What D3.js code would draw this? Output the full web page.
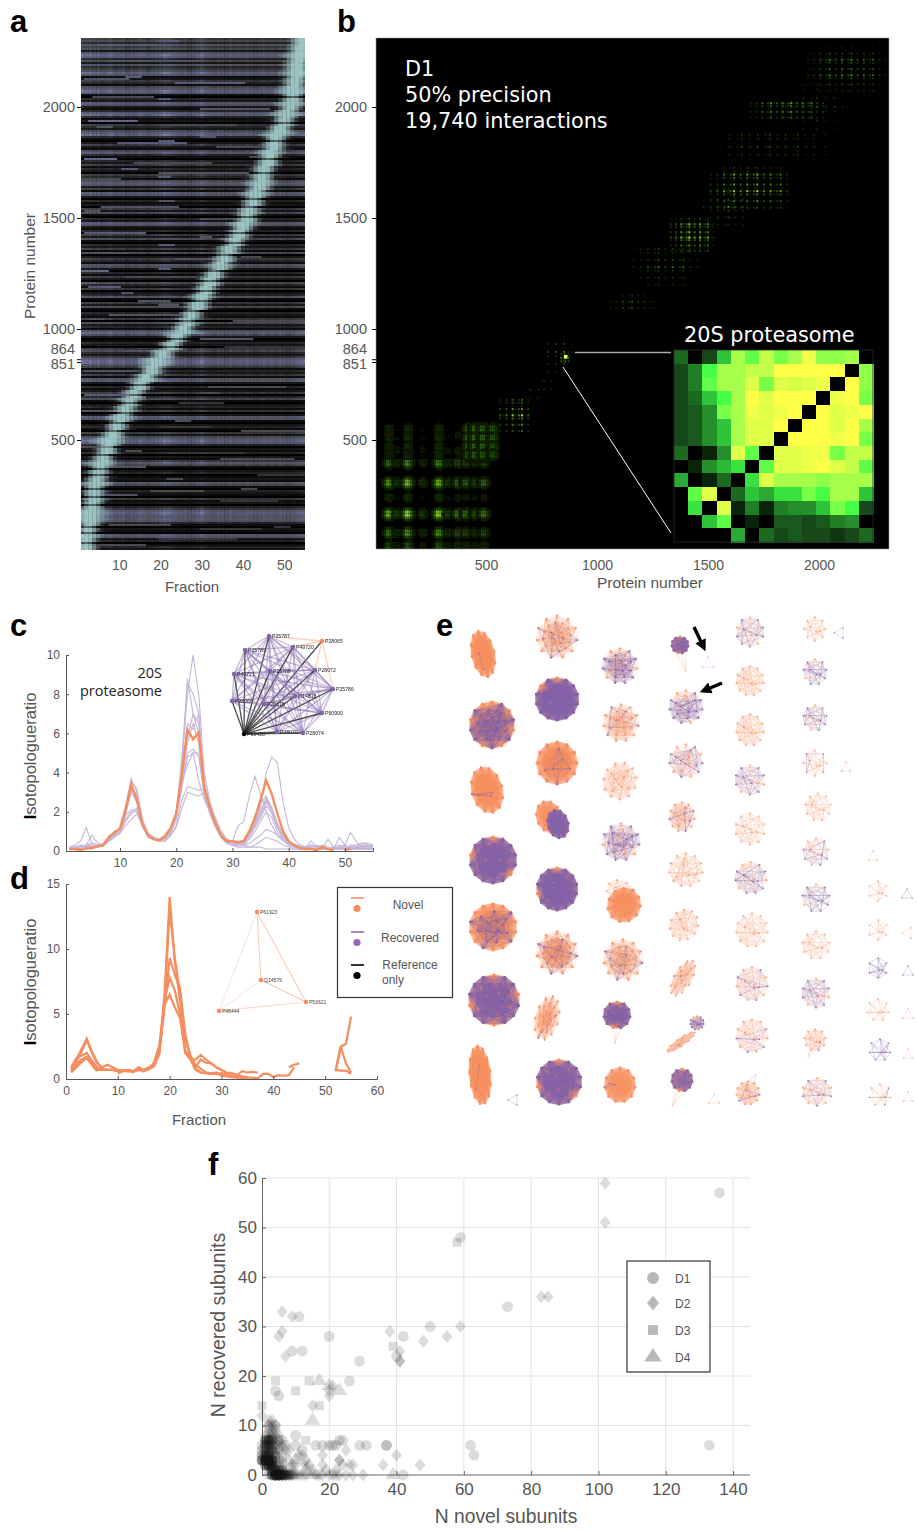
<!DOCTYPE html>
<html>
<head>
<meta charset="utf-8">
<script src="https://cdn.jsdelivr.net/npm/d3@7"></script>
<style>
  html, body { margin: 0; background: #fff; }
  text { font-family: "Liberation Sans", sans-serif; }
</style>
</head>
<body>
<div id="figure"></div>
<script>
const novelColor = "#f58e5e";
const recoveredColor = "#8462a8";
const labelColor = "#555";

// ---- panel a: elution heatmap ----
const heatRowLevels = [
  4,5,3,6,4,5,2,6, 8,7,3,5,2,6,3,4, 5,8,6,1,2,4,3,1, 5,6,8,7,1,0,3,2,
  7,6,2,1,3,7,8,3, 1,2,0,4,3,2,5,7, 8,3,1,0,2,4,2,1, 5,7,3,1,0,3,2,4,
  1,3,2,0,4,3,1,5, 7,6,2,4,1,7,6,2, 0,3,1,2,0,4,2,5, 1,0,3,2,7,6,2,1,
  3,0,4,2,5,1,0,3, 2,4,1,5,0,2,4,3, 1,6,5,2,0,3,1,4, 2,0,5,3,1,4,0,2,
  3,6,1,0,4,2,5,1, 0,3,2,1,4,0,5,2, 3,1,6,8,5,2,0,1, 3,2,0,4,5,3,2,4,
  7,8,8,6,4,1,3,2, 4,1,6,7,2,0,3,1, 2,4,0,3,5,1,0,2, 3,1,4,0,2,7,6,1,
  0,2,3,1,0,4,2,5, 7,8,7,3,0,2,1,3, 0,2,1,4,7,5,1,0, 2,3,0,1,2,1,7,5,
  1,0,3,2,1,0,4,1, 2,0,3,4,7,8,7,6, 7,6,3,1,0,2,1,0, 7,6,2,3,0,1,3,2
];
const heatColumnLevels = [
  .95,.9,.95,.85,.9,.8,.85,.9,.75,.8,.85,.7,.8,.75,.85,.8,.7,.8,.85,.9,
  1,.95,.85,.8,.75,.8,.7,.75,.85,.95,.8,.75,.7,.8,.75,.7,.8,.7,.75,.7,
  .8,.75,.7,.75,.8,.7,.75,.7,.8,.75,.7,.75,.8,.85,.9
];
// protein fraction at the ridge, one value per four heatmap rows, top to bottom
const ridgeFractions = [
  54.5,54,53.5,53,53,52.5,52,52,51.5,50.5,50,49,48,47.5,46.5,46,
  45,44.5,44,43,42.5,41.5,41,40,39,38,36.5,35.5,34.5,33,32,31,
  30,29,27.5,26.5,25.5,24,22.5,20.5,19,18,16.5,15,13.5,12.5,11.5,10.5,
  9.5,8.5,7.5,7,6,5.5,5,4.5,4,4,3.5,3,3,2.5,2,2
];
// extra short streaks: row, first fraction, last fraction, level
const heatStreaks = [
  [3,5,20,6],[11,8,30,5],[20,2,12,5],[22,24,40,6],[29,4,18,4],[35,30,46,5],[41,3,14,7],[43,20,38,4],
  [52,10,26,6],[54,34,46,4],[60,2,9,7],[62,14,32,4],[67,20,41,5],[70,1,10,4],[84,6,24,5],[90,30,43,4],
  [97,2,16,6],[100,18,30,4],[107,4,12,5],[110,24,36,5],[116,1,7,7],[119,12,28,4],[124,3,10,6],[131,15,22,5],
  [134,4,18,4],[138,8,24,5],[141,38,55,4],[150,30,42,5],[154,36,55,3],[166,2,14,5],[174,32,50,4],[178,2,12,6],
  [182,25,35,3],[186,1,15,5],[194,20,32,3],[196,40,55,4],[204,1,8,4],[207,22,40,3],[210,35,52,4],[214,8,16,5],
  [218,44,55,3],[226,18,30,4],[228,2,14,5],[231,35,48,3],[243,8,22,4],[245,30,44,3],[250,20,38,3],[253,4,16,4],
  [1,20,24,6],[13,20,23,6],[19,12,15,6],[30,20,22,6],[44,5,8,5],[49,30,33,5],[51,20,23,6],[59,42,46,4],
  [65,11,14,6],[69,20,22,6],[81,20,23,5],[86,2,5,5],[93,12,16,5],[99,30,32,5],[103,20,23,6],[109,40,44,4],
  [115,20,22,6],[122,1,4,6],[127,11,13,5],[133,20,24,5],[140,3,6,5],[146,20,25,4],[156,12,15,5],[170,9,12,5],
  [177,30,34,4],[191,24,27,4],[199,44,48,4],[206,12,15,4],[220,22,25,4],[225,40,43,4],[235,15,19,3],[244,48,51,3]
];

// ---- panel b: interaction matrix, read by eye ----
const proteasomeMatrix = [
  [3,0,2,5,8,6.5,8.5,7,8,9.5,7.5,7.5,8,0],
  [2,3.5,6,8,8,8.5,8.5,10,10,10,10,10,0,7.5],
  [2,3.5,6.5,8,8,9,7,9,8.8,9,9.5,0,10,7.5],
  [2,3,5,6,8,10,9,10,10,10,0,9.5,10,7],
  [2,2.5,4,7,8,9.5,9,9.5,10,0,10,9,9.5,10],
  [2,2.5,4,5,8,9,9,10,0,10,10,9,10,8],
  [2,2.5,4,5,8,9,9,0,10,10,10,9.5,10,7],
  [3,0,1,4,9,6.5,0,9,9,9.5,9.5,7,8.5,8.5],
  [0,1,4,4.8,5.5,0,6.5,9,9,9.5,10,9,8.5,6.5],
  [4.5,0,1,3,0,5.5,9,8,8,8,7.5,8,8,8],
  [0,6.5,9,0,3,5,4.5,5.5,5.5,7,6,8,8,5],
  [0,5.5,0,9,1,3.5,1,3.5,4,4,5,7,6,2],
  [0,0,5,6.5,0,1,0,2.5,2.5,2,2.5,3.5,4,0],
  [0,0,0,0,4.5,0,3,2,2.5,2,2,1.5,2,3]
];
const lowerBandsX = [[63,.8],[100,.3],[149,1],[215,.3],[289,.95],[330,.32],[375,.55],[411,.5],[450,.35],[492,.55]];
const lowerBandsY = [[520,.22],[450,.3],[397,.6],[307,.85],[240,.25],[167,1],[81,.65],[23,.4]];
const upperBandsX = [[420,.8],[451,.85],[488,.85],[533,.75]];
const upperBandsY = [[550,.85],[509,.9],[469,.9],[433,.8]];
const patchOffsets = [-30,-24,-18,-13,-9,-5,-2,2,5,9,13,18,24,30];
const patchWeights = [.2,.35,.55,.8,1,1,1,1,1,1,.8,.55,.35,.2];
const meshWeightsX = [1,.7,.9,.5,1,.75,.85];
const meshWeightsY = [1,.65,.9,.5,.8];
const blockMeshX = [1,.15,.6,.1,.85,.2,.5];
const blockMeshY = [1,.2,.7,.12,.55];
// x from, x to, y from, y to, pitch, strength
const diagonalBlocks = [
  [564,709,541,690,14,.8],[840,880,855,895,8,.95],[780,900,807,983,18,.42],[700,760,690,770,18,.3],
  [760,830,730,820,18,.3],[1060,1264,1095,1154,14,.42],[1165,1467,1199,1380,16,.36],[1332,1526,1352,1501,12,.8],
  [1480,1700,1470,1640,16,.4],[1512,1873,1546,1727,15,.75],[1526,2054,1785,1893,18,.38],[1693,2040,1952,2042,13,.62],
  [1950,2311,2073,2281,14,.46],[1850,2140,1900,2120,20,.25]
];

// ---- panel c: 20S proteasome elution profiles ----
const fractions = d3.range(1, 56);
const proteasomeMean = [.1,.1,.05,.12,.15,.25,.27,.7,.95,1.15,2.1,3.4,2.6,1.4,.8,.6,.55,.75,1.15,1.9,3.9,6.2,5.7,6.05,3.2,2.2,1.4,.75,.5,.5,.45,.5,1,1.7,2.6,3.6,2.9,1.9,1,.5,.3,.15,.1,.1,.05,.2,.1,.05,null,0,.15,null,null,null,null];
const proteasomeSubunits = [
  [.1,.2,.3,.25,.2,.2,.3,.6,.9,1.2,2.3,3.7,3,1.5,.9,.7,.6,.8,1.2,2,4.5,8,10,8,4,2.5,1.6,.9,.6,.5,.5,.5,.9,1.5,2.4,2.8,2.2,1.4,.8,.5,.3,.3,.2,.2,.2,.1,.1,.2,.1,.2,.1,.2,.2,.3,.2],
  [.2,.3,.5,1.2,.4,.3,.4,.7,1,1.1,2.2,3.3,2.7,1.4,.8,.6,.5,.7,1.1,2,4,8.8,7,6.5,3.5,2.3,1.4,.8,.5,.4,.4,.5,.8,1.4,2.3,4,4.8,4.5,2.5,1.2,.6,.3,.2,.5,.2,.1,.6,.2,.2,.3,.1,.2,.1,.2,.3],
  [.1,.1,.2,.3,.8,.4,.3,.5,.8,1,1.9,3.2,2.8,1.5,.8,.6,.5,.7,1,1.8,4.8,8.6,8,7,3.3,2.2,1.7,1,.6,.5,1.3,1.5,2.8,3.8,2.9,2,1.3,.8,.5,.3,.2,.2,.1,.3,.2,.3,.2,.1,.7,.3,.95,.5,.2,.1,.2],
  [.1,.2,.2,.3,.3,.2,.3,.6,.9,1.1,2,3,2.6,1.3,.7,.6,.5,.7,1.1,1.9,3.8,5.8,7,6,3,2.1,1.4,.8,.5,.4,.4,.5,.8,1.4,1.9,2.7,2.2,1.4,.8,.4,.2,.2,.1,.1,.1,.1,.1,.2,.1,.1,.2,.2,.1,.1,.1],
  [.1,.1,.2,.2,.2,.2,.3,.5,.8,1,1.9,3,2.5,1.3,.7,.6,.6,.7,1,1.7,3.5,5.5,6.5,5.5,2.9,2,1.3,.7,.5,.4,.4,.4,.7,1.2,1.8,2.5,2,1.2,.7,.4,.2,.1,.1,.1,.1,.1,.1,.1,.1,.2,.1,.1,.2,.1,.1],
  [.1,.1,.1,.1,.2,.2,.3,.6,.9,1,1.8,2.1,2.1,1.3,.7,.6,.5,.6,1,1.8,3.3,5,5.2,4.8,2.9,2,1.3,.8,.5,.4,.4,.4,.8,1.2,1.7,2.3,1.9,1.2,.7,.4,.2,.1,.1,.1,.1,.1,.1,.1,.1,.1,.1,.1,.1,.1,.1],
  [.1,.1,.1,.1,.2,.2,.3,.5,.8,1,1.6,2,2,1.2,.8,.6,.5,.6,.9,1.6,3.2,4.8,5,5,2.8,1.9,1.2,.7,.4,.3,.3,.3,.6,1,1.5,2,1.7,1,.6,.3,.2,.1,.1,.1,.1,.1,.1,.1,.1,.1,.1,.1,.1,.1,.1],
  [.1,.1,.1,.2,.1,.2,.3,.5,.7,.9,1.3,1.6,1.9,1.3,.7,.6,.5,.5,.8,1.3,2.6,3.3,3.2,3.1,3.2,1.9,1.2,.7,.4,.3,.3,.3,.4,.6,.8,1.1,1,.8,.6,.3,.2,.1,.1,.1,.1,.1,.1,.1,.1,.1,.1,.1,.1,.1,.1],
  [.2,.2,.2,.3,.2,.2,.3,.5,.7,.9,1.5,1.9,2.2,1.3,.7,.6,.5,.5,.8,1.2,2.2,3,2.9,2.8,3,2,1.3,.7,.4,.3,.2,.2,.2,.3,.5,.7,.6,.5,.3,.2,.1,.1,.1,.1,.1,.1,.1,.1,.1,.1,.2,.2,.3,.2,.1],
  [.1,.1,.2,.2,.2,.2,.3,.5,.8,1,1.9,3.1,2.9,1.5,.8,.6,.5,.6,1,1.7,3.5,4.4,5,3.6,2.6,2,1.4,.9,.5,.4,.3,.3,.2,.2,.2,.1,.1,.1,.1,.1,.1,.1,.1,.2,.3,.2,.1,.1,.2,.1,.2,.2,.4,.3,.2],
  [.1,.1,.2,.3,.4,.3,.3,.6,.9,1.1,2,3.5,3.2,1.6,.9,.7,.6,.7,1.1,1.9,3.9,6.5,6.2,7,3.4,2.4,1.5,.8,.5,.5,.4,.4,.8,1.3,2.1,2.6,2.1,1.3,.8,.5,.3,.2,.2,.3,.2,.2,.1,.2,.3,.2,.3,.3,.4,.4,.3]
];
const proteasomeNodes = [
  ["P25787",269,636,"r"],["P28065",322,641,"n"],["P49720",293,647,"r"],["P25789",245,650,"r"],["P28072",315,670,"r"],
  ["P49721",234,674,"r"],["P25788",270,671,"r"],["P25786",333,689,"r"],["O14818",295,696,"r"],["P60900",322,713,"r"],
  ["P28066",232,701,"r"],["P20618",264,704,"r"],["P28070",277,732,"r"],["P28074",303,733,"r"],["P99436",244,734,"b"]
];

// ---- panel d: novel complex elution profiles ----
const novelProfiles = [
  [.8,1.5,2.3,3.1,2.1,1.3,.8,.7,.7,.65,.6,.7,.6,.9,.7,.9,1.1,2.2,6.5,14,9,6,3,1.8,1.1,.8,.5,.45,.4,.45,.3,.2,.15,.1,.1,.1,.05,.4,.4,.15,.3,.25,.3,.9,null,null,null,null,null,null,null,.6,2.5,2.7,4.8],
  [.7,1.3,2.1,3,2,1.2,.9,1.1,.9,.7,.65,.7,.55,.8,.6,.8,1,2,5.8,13,9.3,6.6,3.3,1.6,1.5,1.85,1.5,1.2,.9,.7,.5,.45,.3,.6,.5,.55,.5,null,null,null,null,null,.9,1.1,1.2,null,null,null,null,null,null,.7,.65,.65,.4],
  [.9,1.6,1.8,2,1.4,.9,.7,.7,.7,.6,.65,.65,.6,.7,.65,.75,1,1.9,5.5,9.3,8,7,3.5,1.7,.9,1.5,1.25,1.2,.9,.7,.45,.4,.3,.2,.15,null,null,null,null,null,null,null,null,null,null,null,null,null,null,null,null,.6,2.5,1.2,.5],
  [.6,1.1,1.5,1.7,1.2,.7,.7,.7,.7,.6,.6,.6,.6,.7,.7,.8,1,2.1,6,7.8,6.8,5,2.2,1.6,.8,.5,.45,.4,.4,.3,.2,.15,.1,.1,.1,null,null,null,null,null,null,null,null,null,null,null,null,null,null,null,null,null,null,null,null],
  [.5,.9,1.3,1.6,1.1,.6,null,null,null,.4,.65,.6,.55,.75,.6,.8,1.3,2.6,5.7,6.5,5.5,4.7,2,1.5,.7,.5,.45,.4,.5,.3,.25,.2,.15,null,null,null,null,null,null,null,null,null,null,null,null,null,null,null,null,null,null,null,null,null,null]
];
const novelNodes = [["P61923",257,912],["Q14579",261,980],["P53621",306,1002],["P48444",219,1011]];

// ---- panel e: complexes, by layout column ----
// centre x, centre y, x radius, y radius, rotation, nodes, link density, recovered share
const networkColumn0 = [
  [483,654,12,24,-12,40,.95,.06],[492,725,23,24,0,46,.9,.55],[487,790,16,24,-15,40,.95,.1],[493,860,24,24,0,46,.9,.82],
  [493,927,24,24,0,46,.85,.35],[494,1000,26,26,0,46,.95,.72],[480,1075,11,30,-5,44,.95,.05],[514,1100,6,6,30,3,1,1]
];
const networkColumn1 = [
  [557,637,21,22,0,30,.7,.3],[557,699,22,22,0,46,.95,.92],[557,763,21,22,0,40,.9,.16],[549,817,13,17,-20,26,1,0],[558,824,11,15,-15,26,1,1],
  [557,889,21,22,0,46,.95,.9],[557,953,21,22,0,36,.8,.3],[547,1018,12,23,15,26,.8,.15],[559,1082,23,23,0,46,.85,.8]
];
const networkColumn2 = [
  [620,666,18,18,0,24,.8,.72],[621,723,18,19,0,24,.75,.28],[620,781,17,19,15,18,.7,.04],[621,842,19,19,0,22,.7,.75],
  [624,905,17,18,30,30,1,.02],[621,893,16,12,30,12,.8,0],[623,960,20,21,0,28,.8,.3],[617,1015,14,14,0,30,1,.85],[620,1085,16,18,0,28,.95,.12]
];
const networkColumn3 = [
  [680,645,9,9,0,18,1,.85],[708,664,6,7,0,3,1,0],[686,707,17,17,0,20,.7,.8],[686,761,17,17,0,18,.65,.6],[682,817,13,15,0,18,.8,.35],
  [686,870,17,17,0,16,.65,.1],[684,925,14,16,30,14,.8,.03],[683,978,9,20,30,18,.75,.12],[697,1023,7,7,0,14,1,.8],[681,1042,4,17,55,14,1,0],
  [682,1080,11,12,0,18,1,.85],[714,1100,6,6,0,3,1,0]
];
const networkColumn4 = [
  [750,632,14,15,0,13,.75,.75],[750,681,14,15,0,14,.8,.04],[750,730,14,16,0,14,.8,.03],[750,780,15,15,0,13,.75,.7],[750,829,15,16,0,13,.7,.02],
  [751,878,16,16,0,14,.8,.72],[752,930,16,17,0,14,.65,.04],[752,984,16,17,0,14,.8,.5],[752,1036,16,17,0,14,.75,.45],[748,1093,12,12,0,16,.85,.25]
];
const networkColumn5 = [
  [815,629,11,12,0,11,.75,.02],[840,633,6,6,30,3,1,1],[815,672,12,13,0,12,.8,.85],[815,718,12,13,0,12,.8,.82],[815,763,12,13,0,11,.7,.5],
  [846,768,5,6,0,3,1,.4],[818,807,13,14,0,12,.7,.02],[816,852,13,14,0,12,.75,.65],[873,857,5,6,0,3,1,0],[816,898,14,14,0,12,.75,.85],
  [816,945,14,14,0,12,.7,.03],[816,993,14,15,0,13,.75,.7],[815,1040,11,11,0,12,.95,.2],[817,1092,15,14,0,13,.8,.55]
];
const networkColumn6 = [
  [878,891,10,10,0,8,.8,.02],[907,895,6,6,0,3,1,1],[878,930,10,10,0,8,.8,.02],[908,933,6,6,30,3,1,0],[878,968,10,10,0,8,.85,1],[908,972,6,6,0,3,1,1],
  [878,1010,11,11,0,9,.75,.02],[908,1015,6,6,0,3,1,0],[880,1050,11,11,0,9,.8,1],[908,1055,5,6,0,3,1,0],[880,1095,11,11,0,9,.75,.5],[908,1098,5,6,0,3,1,0]
];
// tails: hanging node x, y and the centre of the complex it joins
const networkTails = [[686,672,680,650],[672,1107,682,1085],[615,1044,617,1020],[808,1057,815,1044],[603,1012,614,1002],[756,1074,750,1082]];

// ---- panel f: complex composition ----
const pointsD1 = [
  [136,57],[59,48],[73,34],[50,30],[42,28],[29,23],[26,19],[20,28],[11,32],[12,25],[9,25],[5,16],[4,17],[40,24],[133,6],[62,6],[63,4],
  [37,6],[37,6],[42,0],[31,6],[29,6],[24,7],[23,7],[21,6],[22,6],[20,6],[16,6],[18,6],[10,8],[10,6],[12,5],[2,8],[3,7],[2,7],[1,7],[1,6],[0,6],
  [2,6],[3,6],[1,5],[0,5],[2,5],[1,4],[0,4],[2,4],[3,4],[0,3],[1,3],[1,3],[2,3],[2,3],[3,3],[3,3],[0,3],[1,2],[2,2],[2,2],[3,2],[3,1],[2,1],[3,0],[4,0],[4,0],
  [4,0],[5,0],[5,0],[5,0],[6,0],[6,0],[7,0],[8,0],[9,0],[4,1],[5,1],[6,1],[3,8],[4,10],[2,10],[5,7],
  [1,3],[1,3],[2,3],[2,3],[2,3],[1,2],[1,2],[2,2],[2,2],[3,3],[1,4],[2,4],[0,3],[0,4],[3,2],[3,2],[2,4],[1,3],
  [3,0],[3,0],[4,0],[4,0],[4,0],[5,0],[5,0],[5,0],[6,0],[6,0],[7,0],[7,0],[8,0],[3,1],[4,1],[5,1],[6,1],[2,7],[1,7],[2,6],[3,7],[1,6],
  [4,3],[5,3],[4,4],[5,5],[6,4],[4,2],[5,2],[6,2],[4,5],[4,6],[5,6],[7,6],[6,7],[2,3],[2,2],[3,3],[3,2],[1,3],[4,0],[5,0],[6,0],[5,1],[4,1],[3,3],[2,4],[3,5],[2,5],[3,6]
];
const pointsD2 = [
  [102,59],[102,51],[83,36],[85,36],[59,30],[55,28],[48,27],[38,29],[41,25],[41,23],[41,23],[6,33],[9,32],[6,29],[5,28],[7,24],[15,14],[20,16],[20,17],[21,18],
  [47,2],[40,4],[36,2],[30,0],[27,2],[25,5],[23,3],[23,3],[26,2],[18,4],[18,2],[13,3],[12,4],[14,2],[0,12],[2,11],[3,10],[4,9],[4,8],[5,8],[3,7],[6,6],[7,5],[8,5],[5,7],
  [2,9],[1,8],[1,4],[2,3],[3,2],[3,1],[4,1],[4,0],[5,0],[5,0],[6,0],[7,0],[8,0],[10,0],[10,2],[12,0],[16,0],[18,0],[20,0],[21,0],[23,0],[25,0],[27,0],[13,2],[11,4],[24,2],[22,1],
  [2,10],[3,9],[3,11],[4,10],[1,7],[2,7],[3,8],[2,6],[1,6],[11,0],[9,0],[13,0],[6,0],[4,0],[7,1],[15,1],[17,0],[19,1],[22,0],[9,2],[8,3],[6,3]
];
const pointsD3 = [
  [58,47],[39,26],[4,19],[14,19],[10,17],[17,14],[0,14],[13,7],[1,7],[2,7],[2,6],[3,7],[1,4],[1,3],[2,3],[2,2],[3,1],[3,0],[4,0],[5,0],[6,0],[8,0],[3,5],[1,5],[0,3],[4,4]
];
const pointsD4 = [
  [17,19],[23,17],[15,11],[39,0],[20,18],[10,3],[9,1],[3,5],[2,4],[2,3],[1,3],[2,2],[3,1],[3,0],[4,0],[5,0],[7,0],[9,0],[13,1],[15,0],[1,6],[2,7]
];

// ---- page ----
const svg = d3.select("#figure").append("svg").attr("width", 917).attr("height", 1530).style("display", "block");
const defs = svg.append("defs");
defs.append("filter").attr("id", "soft").append("feGaussianBlur").attr("stdDeviation", .45);
defs.append("clipPath").attr("id", "clipA").append("rect").attr("x", 81).attr("y", 38).attr("width", 224).attr("height", 512);
defs.append("clipPath").attr("id", "clipB").append("rect").attr("x", 376).attr("y", 38).attr("width", 513).attr("height", 511);

[["a",10,32],["b",337,32],["c",10,636],["d",10,889],["e",436,636],["f",208,1175]].forEach(([t,x,y]) => {
  svg.append("text").attr("x", x).attr("y", y).attr("font-size", 31).attr("font-weight", "bold").attr("fill", "#000").text(t);
});

const styleAxis = (g, size, color) => {
  g.selectAll("text").attr("font-size", size).attr("fill", labelColor).style("font-family", '"Liberation Sans", sans-serif');
  g.selectAll("line,path").attr("stroke", color);
};
const axisLabel = (x, y, text, size, rotate) => {
  const t = svg.append("text").attr("text-anchor", "middle").attr("font-size", size).attr("fill", labelColor).text(text);
  if (rotate) t.attr("transform", `translate(${x},${y}) rotate(-90)`);
  else t.attr("x", x).attr("y", y);
  return t;
};

// panel a
const proteinY = d3.scaleLinear().domain([0, 2000]).range([551, 107]);
const fractionA = d3.scaleLinear().domain([1, 55]).range([82, 305]);
const heatColor = d3.scaleLinear().domain([0,.2,.45,.72,1]).range(["#000","#1a1a1c","#4c4e54","#5d6082","#8a92ae"]);
const ridgeTeal = "#a2cccb";
const gA = svg.append("g").attr("clip-path", "url(#clipA)");
const gAInner = gA.append("g").attr("filter", "url(#soft)");
gAInner.append("rect").attr("x", 78).attr("y", 35).attr("width", 230).attr("height", 518).attr("fill", "#000");
const rowHeight = 512 / heatRowLevels.length;
const heatCells = [];
heatRowLevels.forEach((level, r) => {
  fractions.forEach((f, c) => {
    let v = level / 9 * heatColumnLevels[c];
    heatStreaks.forEach(s => { if (s[0] === r && f >= s[1] && f <= s[2]) v = Math.max(v, s[3] / 9); });
    const ridge = ridgeFractions[Math.floor(r / 4)];
    const d = Math.abs(f - ridge);
    if (level > 0) v = Math.max(v, .55 * (1 - d / 6));
    const halfWidth = 2 + level * .25;
    const w = .92 * Math.max(0, Math.min(1, 1.3 - d / halfWidth)) * (level === 0 ? .55 : 1);
    heatCells.push({ r, f, fill: d3.interpolateRgb(heatColor(v), ridgeTeal)(w) });
  });
});
gAInner.selectAll("rect.cell").data(heatCells).join("rect").attr("class", "cell")
  .attr("x", d => fractionA(d.f) - 2.06).attr("y", d => 38 + d.r * rowHeight)
  .attr("width", 4.3).attr("height", rowHeight + .3).attr("fill", d => d.fill);

const yAxisA = svg.append("g").attr("transform", "translate(81,0)")
  .call(d3.axisLeft(proteinY).tickValues([500,851,864,1000,1500,2000]).tickSize(4).tickPadding(2).tickFormat(d3.format("d")));
yAxisA.select(".domain").remove();
styleAxis(yAxisA, 14.5, "#000");
yAxisA.selectAll(".tick").filter(d => d === 864).select("text").attr("dy", "-0.4em");
yAxisA.selectAll(".tick").filter(d => d === 851).select("text").attr("dy", "0.42em");
const xAxisA = svg.append("g").attr("transform", "translate(0,550)")
  .call(d3.axisBottom(fractionA).tickValues([10,20,30,40,50]).tickSize(0).tickPadding(10));
xAxisA.select(".domain").remove();
styleAxis(xAxisA, 14, "#000");
axisLabel(192, 592, "Fraction", 15);
axisLabel(35, 266, "Protein number", 15.5, true);

// panel b
const proteinXB = d3.scaleLinear().domain([0, 2000]).range([375, 819]);
const greenYellow = d3.scaleLinear().domain([0,1,2,3,4,5,6,7,8,9,10]).clamp(true)
  .range(["#000","#0a240a","#16481a","#1c6a20","#258f2c","#2ec53a","#44ff44","#78ff48","#a6ff48","#e0ff48","#ffff48"]);
const dotColor = d3.scaleLinear().domain([0,2,4,6,8,10]).clamp(true)
  .range(["#000","#1a3a0a","#3d7a10","#7ab520","#c0e040","#ffff50"]);
const gB = svg.append("g").attr("clip-path", "url(#clipB)");
gB.append("rect").attr("x", 376).attr("y", 38).attr("width", 513).attr("height", 511).attr("fill", "#000");
const dots = [];
const addBandPatches = (xs, ys, gain) => {
  xs.forEach(([px, sx]) => ys.forEach(([py, sy]) => {
    patchOffsets.forEach((ox, i) => patchOffsets.forEach((oy, j) => {
      const v = gain * sx * sy * patchWeights[i] * patchWeights[j] * meshWeightsX[i % 7] * meshWeightsY[j % 5];
      if (v > .6) dots.push({ p: px + ox, q: py + oy, v });
    }));
  }));
};
addBandPatches(lowerBandsX, lowerBandsY, 9);
addBandPatches(upperBandsX, upperBandsY, 5.5);
addBandPatches(lowerBandsX.slice(0, 5), upperBandsY, 2.5);
diagonalBlocks.forEach(([x0, x1, y0, y1, pitch, s]) => {
  const xs = d3.range(x0, x1, pitch), ys = d3.range(y0, y1, pitch);
  xs.forEach((p, i) => ys.forEach((q, j) => {
    const taper = Math.sqrt(Math.sin(Math.PI * (i + .5) / xs.length) * Math.sin(Math.PI * (j + .5) / ys.length));
    const v = 11 * s * taper * blockMeshX[i % 7] * blockMeshY[j % 5];
    if (v > .6) dots.push({ p, q, v });
  }));
});
const gBDots = gB.append("g").attr("filter", "url(#soft)");
gBDots.selectAll("rect").data(dots).join("rect")
  .attr("x", d => proteinXB(d.p) - 1).attr("y", d => proteinY(d.q) - 1)
  .attr("width", 2).attr("height", 2).attr("fill", d => dotColor(d.v));
gB.append("rect").attr("x", 564).attr("y", 355).attr("width", 3.5).attr("height", 3.5).attr("fill", "#ffff48");

const insetCol = d3.scaleBand().domain(d3.range(14)).range([674, 873]);
const insetRow = d3.scaleBand().domain(d3.range(14)).range([350, 542]);
const insetCells = proteasomeMatrix.flatMap((row, r) => row.map((v, c) => ({ r, c, v })));
gB.selectAll("rect.inset").data(insetCells).join("rect").attr("class", "inset")
  .attr("x", d => insetCol(d.c)).attr("y", d => insetRow(d.r))
  .attr("width", insetCol.bandwidth() + .6).attr("height", insetRow.bandwidth() + .6)
  .attr("shape-rendering", "crispEdges").attr("fill", d => greenYellow(d.v));
gB.append("rect").attr("x", 674).attr("y", 350).attr("width", 199).attr("height", 192)
  .attr("fill", "none").attr("stroke", "#2a2a2a").attr("stroke-width", .8);
gB.append("line").attr("x1", 575).attr("y1", 352.5).attr("x2", 671).attr("y2", 352.5).attr("stroke", "#aaa").attr("stroke-width", 1.6);
gB.append("line").attr("x1", 563).attr("y1", 367).attr("x2", 671).attr("y2", 533).attr("stroke", "#fff").attr("stroke-width", 1);
const whiteFont = '"DejaVu Sans", sans-serif';
["D1", "50% precision", "19,740 interactions"].forEach((t, i) => {
  svg.append("text").attr("x", 405).attr("y", 75.5 + i * 26).attr("font-size", 20.8).attr("fill", "#fff").style("font-family", whiteFont).text(t);
});
svg.append("text").attr("x", 684).attr("y", 342).attr("font-size", 20.8).attr("fill", "#fff").style("font-family", whiteFont).text("20S proteasome");
svg.append("rect").attr("x", 376).attr("y", 38).attr("width", 513).attr("height", 511).attr("fill", "none").attr("stroke", "#999").attr("stroke-width", .6);

const yAxisB = svg.append("g").attr("transform", "translate(376,0)")
  .call(d3.axisLeft(proteinY).tickValues([500,851,864,1000,1500,2000]).tickSize(4).tickPadding(5).tickFormat(d3.format("d")));
yAxisB.select(".domain").remove();
styleAxis(yAxisB, 14.5, "#000");
yAxisB.selectAll(".tick").filter(d => d === 864).select("text").attr("dy", "-0.4em");
yAxisB.selectAll(".tick").filter(d => d === 851).select("text").attr("dy", "0.42em");
const xAxisB = svg.append("g").attr("transform", "translate(0,549)")
  .call(d3.axisBottom(proteinXB).tickValues([500,1000,1500,2000]).tickSize(0).tickPadding(11).tickFormat(d3.format("d")));
xAxisB.select(".domain").remove();
styleAxis(xAxisB, 14, "#000");
axisLabel(650, 588, "Protein number", 15.5);

// panel c
const fractionC = d3.scaleLinear().domain([.4, 55]).range([66, 373]);
const ratioC = d3.scaleLinear().domain([0, 10]).range([851, 655]);
const lineC = d3.line().defined(d => d != null).x((d, i) => fractionC(i + 1)).y(d => ratioC(d));
const gC = svg.append("g");
gC.selectAll("path.sub").data(proteasomeSubunits).join("path").attr("class", "sub").attr("d", lineC)
  .attr("fill", "none").attr("stroke", "#c6b6da").attr("stroke-width", 1.1);
gC.append("path").attr("d", lineC(proteasomeMean)).attr("fill", "none").attr("stroke", novelColor).attr("stroke-width", 2.4);

const axisLeftC = svg.append("g").attr("transform", "translate(66,0)")
  .call(d3.axisLeft(ratioC).tickValues([0,2,4,6,8,10]).tickSize(-3).tickPadding(6));
const axisBottomC = svg.append("g").attr("transform", "translate(0,851)")
  .call(d3.axisBottom(fractionC).tickValues([10,20,30,40,50]).tickSize(-3).tickPadding(7));
[axisLeftC, axisBottomC].forEach(a => styleAxis(a, 12, "#555"));
const isoLabel = (x, y) => {
  const t = svg.append("text").attr("transform", `translate(${x},${y}) rotate(-90)`).attr("text-anchor", "middle").attr("font-size", 16.5).attr("fill", labelColor);
  t.append("tspan").attr("fill", "#000").attr("font-weight", "bold").text("I");
  t.append("tspan").text("sotopologueratio");
};
isoLabel(36, 756);
["20S", "proteasome"].forEach((s, i) => {
  svg.append("text").attr("x", 162).attr("y", 678 + i * 18).attr("text-anchor", "end").attr("font-size", 14.5).attr("fill", "#222").style("font-family", '"Open Sans", sans-serif').text(s);
});
// proteasome network inset
const gCNet = svg.append("g").attr("filter", "url(#soft)");
const cLinks = [];
proteasomeNodes.forEach((a, i) => proteasomeNodes.forEach((b, j) => { if (i < j) cLinks.push([a, b]); }));
const cLinkOf = ([a, b]) => a[3] === "b" || b[3] === "b" ? "b" : (a[3] === "n" || b[3] === "n" ? "n" : "r");
gCNet.selectAll("line").data(cLinks.filter(l => cLinkOf(l) !== "n" || [ "P49720","P25787","P28072","P25786","P25789","P49721" ].includes(l[0][0]) || [ "P49720","P28072","P25786" ].includes(l[1][0]))).join("line")
  .attr("x1", d => d[0][1]).attr("y1", d => d[0][2]).attr("x2", d => d[1][1]).attr("y2", d => d[1][2])
  .attr("stroke", d => ({ b: "#222", n: "#f7a77f", r: "#8e72b4" }[cLinkOf(d)]))
  .attr("stroke-opacity", d => cLinkOf(d) === "b" ? .8 : .5).attr("stroke-width", 1.3);
gCNet.selectAll("circle").data(proteasomeNodes).join("circle")
  .attr("cx", d => d[1]).attr("cy", d => d[2]).attr("r", 2.2)
  .attr("fill", d => ({ b: "#000", n: novelColor, r: recoveredColor }[d[3]]));
gCNet.selectAll("text").data(proteasomeNodes).join("text")
  .attr("x", d => d[1] + 3).attr("y", d => d[2] + 1.8).attr("font-size", 5.2).attr("fill", "#222").text(d => d[0]);

// panel d
const fractionD = d3.scaleLinear().domain([0, 60]).range([66, 377]);
const ratioD = d3.scaleLinear().domain([0, 15]).range([1079, 884]);
const lineD = d3.line().defined(d => d != null).x((d, i) => fractionD(i + 1)).y(d => ratioD(d));
svg.append("g").selectAll("path").data(novelProfiles).join("path").attr("d", lineD)
  .attr("fill", "none").attr("stroke", novelColor).attr("stroke-width", 2.2);
const axisLeftD = svg.append("g").attr("transform", "translate(66,0)")
  .call(d3.axisLeft(ratioD).tickValues([0,5,10,15]).tickSize(-3).tickPadding(6));
const axisBottomD = svg.append("g").attr("transform", "translate(0,1079)")
  .call(d3.axisBottom(fractionD).tickValues([0,10,20,30,40,50,60]).tickSize(-3).tickPadding(7));
[axisLeftD, axisBottomD].forEach(a => styleAxis(a, 12, "#555"));
isoLabel(36, 982);
axisLabel(199, 1125, "Fraction", 15);
const gDNet = svg.append("g");
const dLinks = [[0,1,.5],[0,2,.55],[0,3,.25],[1,2,.6],[1,3,.25],[2,3,.4]];
gDNet.selectAll("line").data(dLinks).join("line")
  .attr("x1", d => novelNodes[d[0]][1]).attr("y1", d => novelNodes[d[0]][2])
  .attr("x2", d => novelNodes[d[1]][1]).attr("y2", d => novelNodes[d[1]][2])
  .attr("stroke", "#f4a27b").attr("stroke-opacity", d => d[2]).attr("stroke-width", 1.1);
gDNet.selectAll("circle").data(novelNodes).join("circle").attr("cx", d => d[1]).attr("cy", d => d[2]).attr("r", 2.2).attr("fill", novelColor);
gDNet.selectAll("text").data(novelNodes).join("text").attr("x", d => d[1] + 3).attr("y", d => d[2] + 1.8).attr("font-size", 5).attr("fill", "#444").text(d => d[0]);

// legend of panels c, d
svg.append("rect").attr("x", 337.5).attr("y", 887.5).attr("width", 115).attr("height", 110).attr("fill", "#fff").attr("stroke", "#333").attr("stroke-width", 1.2);
[[898,novelColor],[932,"#9b66b8"],[965,"#000"]].forEach(([y, c]) => {
  svg.append("line").attr("x1", 351).attr("x2", 364).attr("y1", y).attr("y2", y).attr("stroke", c).attr("stroke-width", 1.6);
  svg.append("circle").attr("cx", 357).attr("cy", y + 10.5).attr("r", 3.6).attr("fill", c);
});
[["Novel",408,909],["Recovered",410,942],["Reference",410,969],["only",393,984]].forEach(([t, x, y]) => {
  svg.append("text").attr("x", x).attr("y", y).attr("text-anchor", "middle").attr("font-size", 12).attr("fill", labelColor).text(t);
});

// panel e
const gE = svg.append("g");
const linkRule = (i, j, density) => ((i * 37 + j * 61 + (i ^ j) * 11) % 100) / 100 < density;
const drawNetwork = ([cx, cy, rx, ry, rot, n, density, share]) => {
  const outer = n <= 4 ? n : (n <= 14 ? Math.ceil(n * .72) : Math.max(11, Math.round(n * .3)));
  const mid = Math.round((n - outer) * .62);
  const nodes = [];
  const theta = rot * Math.PI / 180;
  const place = (count, scale, phase) => d3.range(count).forEach(k => {
    const a = 2 * Math.PI * k / count + phase;
    const px = rx * scale * Math.cos(a), py = ry * scale * Math.sin(a);
    nodes.push({ x: cx + px * Math.cos(theta) - py * Math.sin(theta), y: cy + px * Math.sin(theta) + py * Math.cos(theta) });
  });
  place(outer, 1, -Math.PI / 2);
  if (mid > 0) place(mid, n <= 14 ? .5 : .68, .4);
  if (n - outer - mid > 0) place(n - outer - mid, n <= 14 ? .25 : .32, 1.1);
  nodes.forEach((d, i) => { d.recovered = Math.floor((i + 1) * share) > Math.floor(i * share); });
  const links = [];
  nodes.forEach((a, i) => nodes.forEach((b, j) => {
    if (i < j && (n <= 3 || linkRule(i, j, density))) links.push({ a, b, recovered: a.recovered && b.recovered });
  }));
  const dense = density >= .85 && n >= 18;
  const g = gE.append("g");
  if (dense) {
    g.append("path").attr("d", "M" + d3.polygonHull(nodes.map(d => [d.x, d.y])).join("L") + "Z")
      .attr("fill", novelColor).attr("fill-opacity", .55);
    const recoveredNodes = nodes.filter(d => d.recovered).map(d => [d.x, d.y]);
    if (recoveredNodes.length > 3 && share > .5) {
      g.append("path").attr("d", "M" + d3.polygonHull(recoveredNodes).join("L") + "Z")
        .attr("fill", recoveredColor).attr("fill-opacity", .6);
    }
  }
  g.selectAll("line").data(links.sort((l, m) => l.recovered - m.recovered)).join("line")
    .attr("x1", d => d.a.x).attr("y1", d => d.a.y).attr("x2", d => d.b.x).attr("y2", d => d.b.y)
    .attr("stroke", d => d.recovered ? recoveredColor : novelColor)
    .attr("stroke-opacity", d => d.recovered ? (dense ? .6 : .45) : (dense ? .45 : .3)).attr("stroke-width", .55);
  g.selectAll("circle").data(nodes).join("circle").attr("cx", d => d.x).attr("cy", d => d.y).attr("r", .8)
    .attr("fill", d => d.recovered ? recoveredColor : novelColor).attr("fill-opacity", .7);
};
[networkColumn0, networkColumn1, networkColumn2, networkColumn3, networkColumn4, networkColumn5, networkColumn6]
  .forEach(col => col.forEach(drawNetwork));
networkTails.forEach(([x, y, tx, ty]) => {
  [-5, 0, 5].forEach(o => {
    gE.append("line").attr("x1", x).attr("y1", y).attr("x2", tx + o).attr("y2", ty + (o ? 2 : 0))
      .attr("stroke", novelColor).attr("stroke-opacity", .4).attr("stroke-width", .6);
  });
});
const arrowHead = d3.select("defs").append("marker").attr("id", "arrow").attr("viewBox", "0 0 10 10").attr("refX", 7).attr("refY", 5)
  .attr("markerWidth", 3.4).attr("markerHeight", 4).attr("orient", "auto");
arrowHead.append("path").attr("d", "M0,0 L10,5 L0,10 Z").attr("fill", "#000");
[[694,627,704,648],[722,683,703,691]].forEach(([x1, y1, x2, y2]) => {
  gE.append("line").attr("x1", x1).attr("y1", y1).attr("x2", x2).attr("y2", y2).attr("stroke", "#000").attr("stroke-width", 3.4).attr("marker-end", "url(#arrow)");
});

// panel f
const novelX = d3.scaleLinear().domain([0, 140]).range([262, 733]);
const recoveredY = d3.scaleLinear().domain([0, 60]).range([1475, 1178]);
const gF = svg.append("g");
[20,40,60,80,100,120,140].forEach(v => {
  gF.append("line").attr("x1", novelX(v)).attr("x2", novelX(v)).attr("y1", 1178).attr("y2", 1475).attr("stroke", "#e2e2e2");
});
[10,20,30,40,50,60].forEach(v => {
  gF.append("line").attr("x1", 262).attr("x2", 750).attr("y1", recoveredY(v)).attr("y2", recoveredY(v)).attr("stroke", "#e2e2e2");
});
const axisLeftF = svg.append("g").attr("transform", "translate(262,0)")
  .call(d3.axisLeft(recoveredY).tickValues([0,10,20,30,40,50,60]).tickSize(-4).tickPadding(5));
const axisBottomF = svg.append("g").attr("transform", "translate(0,1475)")
  .call(d3.axisBottom(novelX).tickValues([0,20,40,60,80,100,120,140]).tickSize(-4).tickPadding(8));
axisBottomF.select(".domain").attr("d", "M262,0H750");
[axisLeftF, axisBottomF].forEach(a => styleAxis(a, 17, "#666"));
axisLabel(506, 1523, "N novel subunits", 19.3);
axisLabel(225, 1325, "N recovered subunits", 19.5, true);

const symbolPath = {
  circle: d3.symbol(d3.symbolCircle, 92)(),
  diamond: d3.symbol(d3.symbolDiamond, 49)(),
  square: d3.symbol(d3.symbolSquare, 80)(),
  triangle: d3.symbol(d3.symbolTriangle, 88)()
};
const symbolStretch = { circle: 1, diamond: 1.45, square: 1, triangle: 1.1 };
const scatterSeries = [[pointsD1,"circle"],[pointsD2,"diamond"],[pointsD3,"square"],[pointsD4,"triangle"]];
const gFPoints = svg.append("g");
scatterSeries.forEach(([pts, shape]) => {
  gFPoints.append("g").selectAll("path").data(pts).join("path")
    .attr("d", symbolPath[shape])
    .attr("transform", d => `translate(${novelX(d[0])},${recoveredY(d[1])}) scale(${symbolStretch[shape]},1)`)
    .attr("fill", "#111").attr("fill-opacity", .15);
});
svg.append("rect").attr("x", 627).attr("y", 1261).attr("width", 83).attr("height", 111).attr("fill", "#fff").attr("stroke", "#222").attr("stroke-width", 1.1);
[["D1","circle",1278],["D2","diamond",1303],["D3","square",1330],["D4","triangle",1357]].forEach(([t, shape, y]) => {
  svg.append("path").attr("d", symbolPath[shape]).attr("transform", `translate(653,${y}) scale(${symbolStretch[shape] * 1.1},1.1)`).attr("fill", "#b8b8b8");
  svg.append("text").attr("x", 675).attr("y", y + 4.5).attr("font-size", 12).attr("fill", labelColor).text(t);
});
</script>
</body>
</html>
